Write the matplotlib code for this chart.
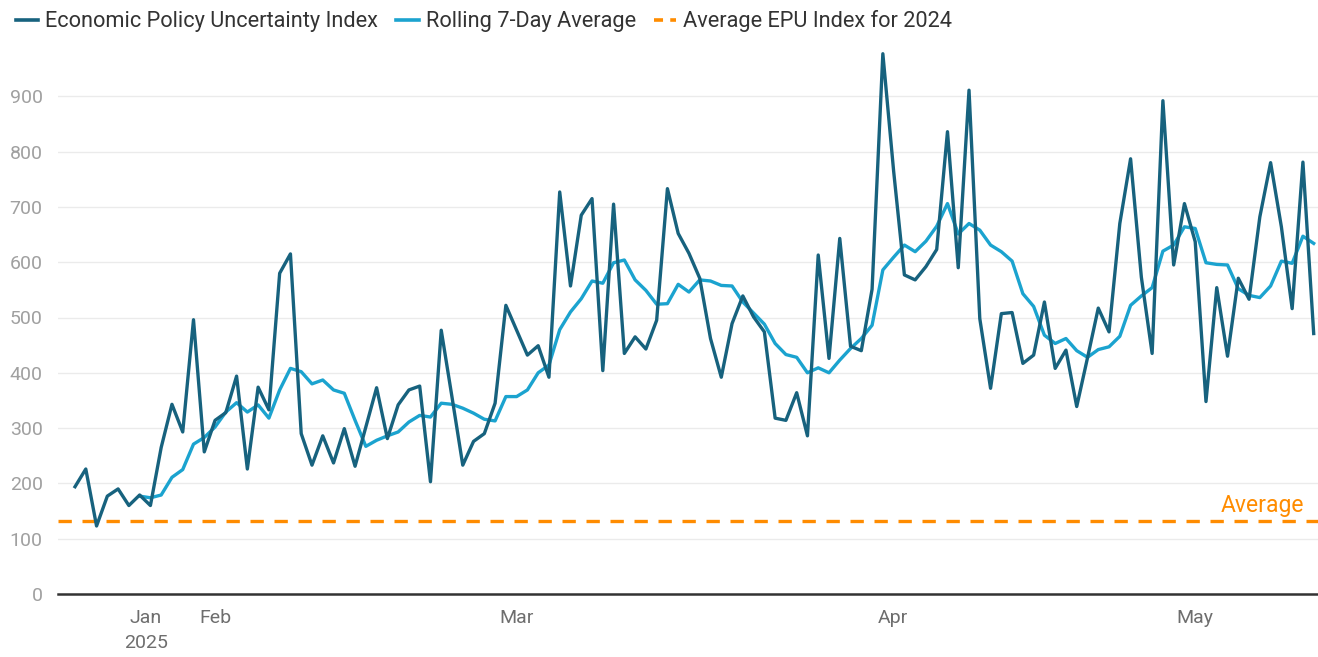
import matplotlib
matplotlib.use("Agg")
import matplotlib.pyplot as plt
from matplotlib.lines import Line2D

plt.rcParams['font.family'] = ['Roboto', 'DejaVu Sans']

# ---- data ----
epu_index = [194, 226, 123, 177, 190, 160, 179, 160, 265, 343,
             293, 496, 257, 314, 328, 394, 226, 374, 333, 580,
             615, 290, 233, 286, 237, 299, 231, 302, 373, 281,
             342, 369, 376, 203, 477, 356, 233, 276, 290, 345,
             522, 477, 432, 449, 392, 727, 557, 685, 715, 404,
             705, 435, 465, 443, 495, 733, 652, 616, 571, 462,
             392, 489, 539, 501, 474, 318, 314, 364, 286, 613,
             426, 643, 448, 440, 551, 977, 765, 577, 568, 592,
             623, 836, 590, 911, 498, 372, 507, 509, 417, 432,
             528, 408, 441, 339, 427, 517, 474, 670, 787, 573,
             435, 892, 595, 706, 637, 348, 554, 430, 571, 533,
             682, 780, 664, 516, 781, 471]

rolling_7day = [None, None, None, None, None, None,
                177, 174, 179, 211, 225, 271, 283, 302, 329, 346,
                329, 342, 318, 369, 408, 402, 380, 387, 369, 363,
                314, 267, 278, 286, 293, 311, 323, 320, 345, 343,
                336, 327, 316, 313, 357, 357, 369, 400, 414, 478,
                510, 534, 566, 562, 599, 604, 568, 549, 524, 525,
                560, 546, 568, 566, 558, 557, 528, 508, 488, 453,
                433, 428, 400, 409, 400, 423, 444, 462, 486, 586,
                609, 631, 619, 638, 665, 706, 651, 670, 658, 631,
                619, 602, 543, 520, 468, 453, 462, 440, 428, 442,
                447, 466, 522, 539, 554, 620, 631, 664, 661, 599,
                596, 595, 552, 540, 536, 557, 602, 598, 647, 634]

avg_2024 = 132

month_labels = ['Jan\n2025', 'Feb', 'Mar', 'Apr', 'May']
y_ticks = [0, 100, 200, 300, 400, 500, 600, 700, 800, 900]

series_names = ['Economic Policy Uncertainty Index', 'Rolling 7-Day Average',
                'Average EPU Index for 2024']

# ---- layout / style ----
month_tick_pos = [6.6, 13.0, 41.0, 75.9, 104.0]
C_MAIN = '#17627e'
C_ROLL = '#1ba3cf'
C_AVG = '#ff8c00'

fig = plt.figure(figsize=(13.18, 6.57), dpi=100)
ax = fig.add_axes([58 / 1318, 63 / 657, 1 - 58 / 1318, (594 - 41) / 657])

xs = list(range(len(epu_index)))
roll_x = [x for x, v in zip(xs, rolling_7day) if v is not None]
roll_y = [v for v in rolling_7day if v is not None]

ax.axhline(avg_2024, color=C_AVG, lw=2.4, dashes=(4, 3.2), zorder=2)
ax.plot(roll_x, roll_y, color=C_ROLL, lw=2.4, zorder=3, solid_joinstyle='round')
ax.plot(xs, epu_index, color=C_MAIN, lw=2.4, zorder=4, solid_joinstyle='round')

ax.text(len(epu_index) - 1.9, avg_2024 + 28, 'Average', color=C_AVG,
        fontsize=16.5, ha='right', va='center')

ax.set_xlim(-1.58, 115.4)
ax.set_ylim(0, 1000)
ax.set_yticks(y_ticks)
ax.set_xticks(month_tick_pos)
ax.set_xticklabels(month_labels, linespacing=1.5)

for s in ['top', 'right', 'left']:
    ax.spines[s].set_visible(False)
ax.spines['bottom'].set_color('#333333')
ax.spines['bottom'].set_linewidth(1.8)
ax.spines['bottom'].set_zorder(5)

ax.grid(axis='y', color='#ebebeb', lw=1.0, zorder=0)
ax.set_axisbelow(True)
ax.tick_params(axis='y', length=0, pad=11, labelsize=14, labelcolor='#a0a0a0')
ax.tick_params(axis='x', length=0, pad=11, labelsize=14, labelcolor='#6e6e6e')

handles = [Line2D([], [], color=C_MAIN, lw=2.6),
           Line2D([], [], color=C_ROLL, lw=2.6),
           Line2D([], [], color=C_AVG, lw=2.6, dashes=(2.5, 2))]
leg = fig.legend(handles, series_names, loc='upper left', bbox_to_anchor=(-0.003, 1.014),
                 ncol=3, frameon=False, fontsize=15.7, handlelength=1.02,
                 handletextpad=0.32, columnspacing=0.85)
for t in leg.get_texts():
    t.set_color('#333333')

fig.savefig('out.png', dpi=100)
